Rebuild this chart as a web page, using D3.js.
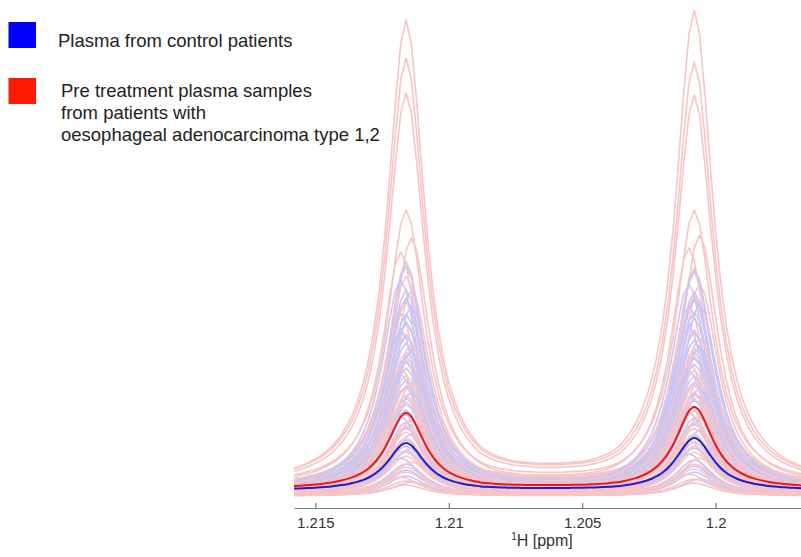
<!DOCTYPE html>
<html>
<head>
<meta charset="utf-8">
<script src="https://cdn.jsdelivr.net/npm/d3@7/dist/d3.min.js"></script>
<style>
  html, body { margin: 0; padding: 0; background: #fff; }
  svg { display: block; font-family: "Liberation Sans", Arial, sans-serif; }
</style>
</head>
<body>
<svg id="chart" width="801" height="557"></svg>
<script>
// 1H NMR spectra, 1.216 – 1.197 ppm region (doublet), intensities in a.u.

// Chemical-shift sampling of the spectra
const ppmStart = 1.2160;
const ppmStep = 0.0002;
const nPoints = 98;
const leftPeakIndex = 22;   // ≈ 1.2116 ppm
const rightPeakIndex = 76;  // ≈ 1.2008 ppm

// Normalised line shape, by distance (in sampling steps) from the line centre
const lineShape = [1.000, 0.949, 0.822, 0.673, 0.536, 0.425, 0.339, 0.274, 0.224, 0.186,
  0.156, 0.133, 0.114, 0.099, 0.086, 0.076, 0.067, 0.060, 0.054, 0.049,
  0.044, 0.040, 0.037, 0.034, 0.031, 0.029, 0.027, 0.025, 0.023, 0.021,
  0.020, 0.018, 0.016, 0.014, 0.012, 0.010, 0.008, 0.006, 0.004, 0.002, 0.000];

// Pre-treatment plasma, oesophageal adenocarcinoma: baseline, left and right line heights, shift
const cancerBase  = [9, 10, 9, 10, 8, 9, 8, 7, 8, 7, 6, 7, 6, 6, 5, 6, 5, 5, 4, 5, 4, 4, 4, 3, 4, 3, 3, 3, 2, 2, 2, 2, 1, 1, 1, 0, 0];
const cancerLeft  = [467, 428, 394, 276, 250, 235, 226, 213, 198, 187, 176, 165, 156, 146, 139, 130, 123, 116, 110, 103, 97, 90, 84, 79, 72, 67, 61, 55, 50, 44, 38, 32, 28, 23, 18, 15, 11];
const cancerRight = [477, 424, 392, 276, 253, 239, 220, 217, 204, 193, 184, 171, 160, 152, 143, 134, 129, 121, 114, 106, 100, 94, 88, 83, 76, 71, 65, 59, 54, 48, 42, 36, 31, 26, 21, 17, 13];
const cancerShift = [0, 0, 0, 0, 1, -1, 0, 0, 1, 0, -1, 0, 0, 1, 0, 0, -1, 0, 1, 0, 0, 0, -1, 0, 1, 0, 0, 0, -1, 0, 0, 1, 0, 0, -1, 0, 0];

// Control plasma: baseline, left and right line heights, shift
const controlBase  = [6, 6, 5, 6, 5, 5, 5, 4, 5, 4, 4, 4, 4, 3, 4, 3, 3, 3, 3, 2, 3, 2, 2, 2, 2, 1, 2, 1, 1, 1, 0, 0, 0];
const controlLeft  = [224, 210, 201, 192, 185, 177, 169, 162, 155, 149, 142, 136, 130, 125, 118, 113, 107, 101, 95, 90, 83, 78, 72, 66, 60, 55, 48, 43, 37, 31, 26, 20, 14];
const controlRight = [220, 206, 199, 190, 187, 179, 173, 166, 159, 152, 146, 140, 134, 129, 122, 117, 111, 105, 99, 94, 87, 82, 76, 70, 64, 59, 52, 47, 41, 35, 30, 24, 17];
const controlShift = [0, -1, 0, 0, 1, 0, 0, -1, 0, 0, 1, 0, 0, 0, -1, 0, 0, 1, 0, 0, 0, -1, 0, 0, 1, 0, 0, 0, -1, 0, 0, 0, 1];

// Group median spectra: [baseline, left height, right height]
const cancerMedian  = [7, 76, 82];
const controlMedian = [5.5, 47.5, 52.5];

// Axis
const xTicks = [1.215, 1.21, 1.205, 1.2];
const xDomain = [1.2158, 1.1968];

// Legend
const legendItems = [
  { color: "#0000ff", lines: ["Plasma from control patients"] },
  { color: "#ff1a00", lines: ["Pre treatment plasma samples", "from patients with", "oesophageal adenocarcinoma type 1,2"] }
];

const svg = d3.select("#chart");
const x = d3.scaleLinear().domain(xDomain).range([294, 801]);
const y = d3.scaleLinear().domain([0, 470]).range([496, 26]);

const ppm = d3.range(nPoints).map(i => ppmStart - i * ppmStep);

function spectrum(base, hLeft, hRight, shift) {
  return ppm.map((p, i) => {
    const dL = Math.abs(i - (leftPeakIndex + shift));
    const dR = Math.abs(i - (rightPeakIndex + shift));
    const v = base + hLeft * (lineShape[dL] || 0) + hRight * (lineShape[dR] || 0);
    return [p, v];
  });
}

svg.append("defs").append("clipPath").attr("id", "plotClip")
  .append("rect").attr("x", 294).attr("y", 0).attr("width", 507).attr("height", 508);

const plot = svg.append("g").attr("clip-path", "url(#plotClip)");

const lineLin = d3.line().x(d => x(d[0])).y(d => y(d[1])).curve(d3.curveLinear);
const lineSmooth = d3.line().x(d => x(d[0])).y(d => y(d[1])).curve(d3.curveMonotoneX);

// Individual spectra: the tallest cancer spectra underneath,
// then the remaining spectra of both groups, two controls per cancer spectrum
const cancerColor = "#f9c4c4";
const controlColor = "#c6c6f7";
const cancerTrace = k => ({ color: cancerColor, pts: spectrum(cancerBase[k], cancerLeft[k], cancerRight[k], cancerShift[k]) });
const controlTrace = k => ({ color: controlColor, pts: spectrum(controlBase[k], controlLeft[k], controlRight[k], controlShift[k]) });

const nUnder = 10;
const traces = d3.range(nUnder).map(cancerTrace);
let c = nUnder;
controlBase.forEach((b, k) => {
  traces.push(controlTrace(k));
  if (k % 2 === 1 && c < cancerBase.length) traces.push(cancerTrace(c++));
});
while (c < cancerBase.length) traces.push(cancerTrace(c++));

plot.selectAll("path.trace").data(traces).join("path")
  .attr("class", "trace")
  .attr("d", d => lineLin(d.pts))
  .attr("fill", "none")
  .attr("stroke", d => d.color)
  .attr("stroke-width", 1.6)
  .attr("stroke-linejoin", "round");

// Group medians
plot.append("path")
  .attr("d", lineSmooth(spectrum(cancerMedian[0], cancerMedian[1], cancerMedian[2], 0)))
  .attr("fill", "none").attr("stroke", "#e41a22").attr("stroke-width", 2);
plot.append("path")
  .attr("d", lineSmooth(spectrum(controlMedian[0], controlMedian[1], controlMedian[2], 0)))
  .attr("fill", "none").attr("stroke", "#1c1cd0").attr("stroke-width", 2);

// x axis
const axis = svg.append("g")
  .attr("transform", "translate(0,508)")
  .call(d3.axisBottom(x).tickValues(xTicks).tickFormat(d => String(d))
    .tickSize(-5).tickSizeOuter(0).tickPadding(9.5));
axis.select(".domain").attr("stroke", "#777").attr("stroke-width", 1.2);
axis.selectAll(".tick line").attr("stroke", "#777").attr("stroke-width", 1.2);
axis.selectAll(".tick text").attr("fill", "#333").style("font-size", "15px")
  .style("font-family", "'Liberation Sans', Arial, sans-serif");

const title = svg.append("text")
  .attr("x", 542).attr("y", 546)
  .attr("text-anchor", "middle")
  .attr("fill", "#333")
  .style("font-size", "16px");
title.append("tspan").text("1").style("font-size", "10px").attr("dy", "-6");
title.append("tspan").text("H [ppm]").attr("dy", "6");

// Legend
const legendTop = [22, 78];
legendItems.forEach((item, i) => {
  svg.append("rect")
    .attr("x", 8.5).attr("y", legendTop[i])
    .attr("width", 27.5).attr("height", 26)
    .attr("fill", item.color);
  item.lines.forEach((t, j) => {
    svg.append("text")
      .attr("x", i === 0 ? 58 : 61)
      .attr("y", legendTop[i] + (i === 0 ? 25 : 19) + j * 22)
      .attr("fill", "#222")
      .style("font-size", "18.5px")
      .text(t);
  });
});
</script>
</body>
</html>
